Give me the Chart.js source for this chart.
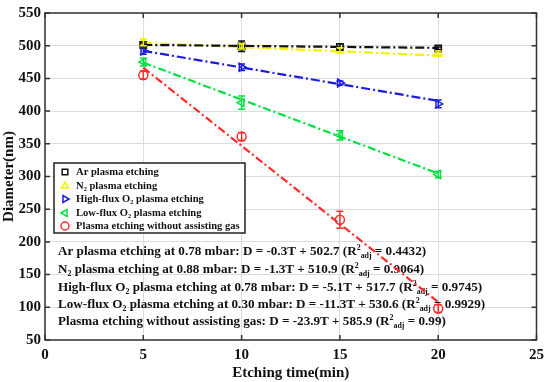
<!DOCTYPE html>
<html>
<head>
  <title>Diameter vs etching time</title>
  <script src="https://cdn.jsdelivr.net/npm/chart.js"></script>
  <style>
    body {
      margin: 0;
      padding: 0;
      background-color: #fff;
    }
    .chart-container {
      width: 550px;
      height: 382px;
    }
  </style>
</head>
<body>
  <div class="chart-container">
    <canvas id="diaChart" width="550" height="382"></canvas>
  </div>
  <script>
    // measured points (etching time in min, diameter in nm)
    const times = [5, 10, 15, 20];
    const arD = [501, 499, 498, 496];
    const arErr = [3, 8, 5, 2];
    const n2D = [505, 499, 493, 488];
    const n2Err = [5, 4, 4, 4];
    const hiD = [492, 467, 443, 411];
    const hiErr = [5, 5, 3, 6];
    const loD = [475, 413, 363, 303];
    const loErr = [6, 10, 7, 5];
    const noD = [455, 361, 234, 98];
    const noErr = [6, 6, 13, 6];

    // fitted lines, read at T = 5 and T = 20
    const fitT = [5, 20];
    const arFit = [501.2, 496.7];
    const n2Fit = [504.4, 484.9];
    const hiFit = [492.2, 415.7];
    const loFit = [474.1, 304.6];
    const noFit = [466.4, 107.9];

    const xTicks = [0, 5, 10, 15, 20, 25];
    const yTicks = [50, 100, 150, 200, 250, 300, 350, 400, 450, 500, 550];

    const legendLabels = [
      'Ar plasma etching',
      'N_{2} plasma etching',
      'High-flux O_{2} plasma etching',
      'Low-flux O_{2} plasma etching',
      'Plasma etching without assisting gas'
    ];
    const fitLabels = [
      'Ar plasma etching at 0.78 mbar: D = -0.3T + 502.7 (R^{2}_{adj} = 0.4432)',
      'N_{2} plasma etching at 0.88 mbar: D = -1.3T + 510.9 (R^{2}_{adj} = 0.9064)',
      'High-flux O_{2} plasma etching at 0.78 mbar: D = -5.1T + 517.7 (R^{2}_{adj} = 0.9745)',
      'Low-flux O_{2} plasma etching at 0.30 mbar: D = -11.3T + 530.6 (R^{2}_{adj} = 0.9929)',
      'Plasma etching without assisting gas: D = -23.9T + 585.9 (R^{2}_{adj} = 0.99)'
    ];

    const serif = '"Liberation Serif", "DejaVu Serif", serif';
    const series = [
      { d: arD, e: arErr, fit: arFit, color: '#111111', style: 'rect', rot: 0, dash: [9, 3, 2, 3] },
      { d: n2D, e: n2Err, fit: n2Fit, color: '#f2f200', style: 'triangle', rot: 0, dash: [9, 3, 2, 3] },
      { d: hiD, e: hiErr, fit: hiFit, color: '#1c1ce0', style: 'triangle', rot: 90, dash: [9, 3, 2, 3] },
      { d: loD, e: loErr, fit: loFit, color: '#00e040', style: 'triangle', rot: -90, dash: [8, 3, 2, 3] },
      { d: noD, e: noErr, fit: noFit, color: '#ff2a2a', style: 'circle', rot: 0, dash: [8, 3, 2, 3] }
    ];

    const datasets = [];
    series.forEach(s => {
      datasets.push({
        type: 'scatter',
        data: fitT.map((t, i) => ({ x: t, y: s.fit[i] })),
        showLine: true,
        borderColor: s.color,
        borderWidth: 2.2,
        borderDash: s.dash,
        pointRadius: 0
      });
    });
    series.forEach(s => {
      datasets.push({
        type: 'scatter',
        data: times.map((t, i) => ({ x: t, y: s.d[i] })),
        errors: s.e,
        borderColor: s.color,
        backgroundColor: 'rgba(0,0,0,0)',
        pointStyle: s.style,
        rotation: s.rot,
        pointRadius: 4.5,
        pointBorderWidth: 1.5
      });
    });

    // draw text with _{sub} and ^{sup} parts
    function drawRich(ctx, str, x, y, size) {
      const parts = str.split(/([_^]\{[^}]*\})/).filter(p => p.length);
      parts.forEach(p => {
        let txt = p, sz = size, dy = 0;
        if (p.startsWith('_{')) { txt = p.slice(2, -1); sz = size * 0.6; dy = size * 0.3; }
        else if (p.startsWith('^{')) { txt = p.slice(2, -1); sz = size * 0.6; dy = -size * 0.3; }
        ctx.font = 'bold ' + sz + 'px ' + serif;
        ctx.fillText(txt, x, y + dy);
        x += ctx.measureText(txt).width;
      });
    }

    const extras = {
      id: 'extras',
      beforeDatasetsDraw(chart) {
        const ctx = chart.ctx;
        ctx.save();
        // annotation with fit equations
        ctx.fillStyle = '#111';
        ctx.textBaseline = 'middle';
        ctx.textAlign = 'left';
        const rows = [252, 270, 288, 305, 322];
        fitLabels.forEach((t, i) => {
          ctx.save();
          ctx.translate(58, rows[i]);
          ctx.scale(1.01, 1);
          drawRich(ctx, t, 0, 0, 13);
          ctx.restore();
        });
        ctx.restore();
      },
      afterDatasetsDraw(chart) {
        const ctx = chart.ctx;
        const a = chart.chartArea;
        const xs = chart.scales.x, ys = chart.scales.y;
        ctx.save();
        // error bars
        chart.data.datasets.forEach(ds => {
          if (!ds.errors) return;
          ctx.strokeStyle = ds.borderColor;
          ctx.lineWidth = 1.5;
          ds.data.forEach((p, i) => {
            const px = xs.getPixelForValue(p.x);
            const y1 = ys.getPixelForValue(p.y - ds.errors[i]);
            const y2 = ys.getPixelForValue(p.y + ds.errors[i]);
            ctx.beginPath();
            ctx.moveTo(px, y1); ctx.lineTo(px, y2);
            ctx.moveTo(px - 3.5, y1); ctx.lineTo(px + 3.5, y1);
            ctx.moveTo(px - 3.5, y2); ctx.lineTo(px + 3.5, y2);
            ctx.stroke();
          });
        });
        // frame and inner ticks
        ctx.strokeStyle = '#333';
        ctx.lineWidth = 1.5;
        ctx.strokeRect(a.left, a.top, a.right - a.left, a.bottom - a.top);
        ctx.beginPath();
        xTicks.forEach(v => {
          const px = xs.getPixelForValue(v);
          ctx.moveTo(px, a.bottom); ctx.lineTo(px, a.bottom - 5);
          ctx.moveTo(px, a.top); ctx.lineTo(px, a.top + 5);
        });
        yTicks.forEach(v => {
          const py = ys.getPixelForValue(v);
          ctx.moveTo(a.left, py); ctx.lineTo(a.left + 5, py);
          ctx.moveTo(a.right, py); ctx.lineTo(a.right - 5, py);
        });
        ctx.stroke();
        // legend box
        const bx = 54, by = 163, bw = 191, bh = 70;
        ctx.fillStyle = '#fff';
        ctx.fillRect(bx, by, bw, bh);
        ctx.strokeStyle = '#222';
        ctx.lineWidth = 1.5;
        ctx.strokeRect(bx, by, bw, bh);
        const rowY = [172, 186, 199, 213, 226];
        series.forEach((s, i) => {
          ctx.strokeStyle = s.color;
          ctx.fillStyle = 'rgba(0,0,0,0)';
          Chart.helpers.drawPoint(ctx, { pointStyle: s.style, rotation: s.rot, radius: 4, borderWidth: 1.5 }, 65, rowY[i]);
          ctx.fillStyle = '#111';
          ctx.textBaseline = 'middle';
          ctx.save();
          ctx.translate(76, rowY[i]);
          ctx.scale(0.96, 1);
          drawRich(ctx, legendLabels[i], 0, 0, 11);
          ctx.restore();
        });
        ctx.restore();
      }
    };

    new Chart(document.getElementById('diaChart'), {
      type: 'scatter',
      data: { datasets: datasets },
      options: {
        responsive: false,
        animation: false,
        layout: { padding: { top: 11, right: 13, left: 0, bottom: 0 } },
        plugins: {
          legend: { display: false },
          tooltip: { enabled: false }
        },
        scales: {
          x: {
            type: 'linear',
            min: 0,
            max: 25,
            afterBuildTicks: scale => { scale.ticks = xTicks.map(v => ({ value: v })); },
            afterFit: scale => { scale.height = 42; },
            grid: { color: '#dcdcdc', lineWidth: 1, drawTicks: false },
            border: { display: false },
            ticks: {
              color: '#111',
              padding: 6,
              font: { family: serif, size: 15, weight: 'bold' }
            },
            title: {
              display: true,
              text: 'Etching time(min)',
              color: '#111',
              padding: { top: 2, bottom: 0 },
              font: { family: serif, size: 15, weight: 'bold' }
            }
          },
          y: {
            min: 50,
            max: 550,
            afterBuildTicks: scale => { scale.ticks = yTicks.map(v => ({ value: v })); },
            afterFit: scale => { scale.width = 45; },
            grid: { color: '#dcdcdc', lineWidth: 1, drawTicks: false },
            border: { display: false },
            ticks: {
              color: '#111',
              padding: 4,
              font: { family: serif, size: 15, weight: 'bold' }
            },
            title: {
              display: true,
              text: 'Diameter(nm)',
              color: '#111',
              padding: { top: 0, bottom: 0 },
              font: { family: serif, size: 15, weight: 'bold' }
            }
          }
        }
      },
      plugins: [extras]
    });
  </script>
</body>
</html>
